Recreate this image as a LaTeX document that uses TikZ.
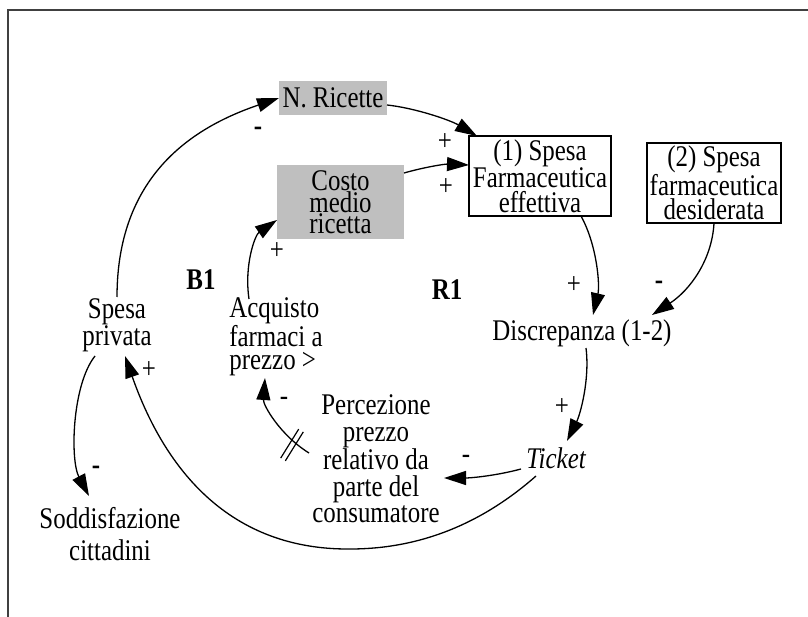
\documentclass[tikz,border=0pt]{standalone}
\usepackage{fontspec}
\setmainfont{Liberation Serif}[FakeStretch=0.83]
\usetikzlibrary{arrows.meta}
\newcommand{\fsz}[1]{\fontsize{30}{#1}\selectfont}
\begin{document}
\begin{tikzpicture}[x=1pt,y=-1pt,
  every node/.style={inner sep=0pt, outer sep=0pt, align=center, font=\fsz{26.5}},
  link/.style={line width=1.3pt, -{Triangle[length=22pt,width=14pt]}},
  sbox/.style={draw, line width=1.4pt},
  gbox/.style={fill=black!25},
  pol/.style={font=\fsz{26.5}},
  loopname/.style={font=\fsz{26.5}\bfseries}]
\useasboundingbox (0,0) rectangle (808,617);
\draw[line width=1.3pt, black!75] (808,10) -- (8,10) -- (8,617);

% variables
\node[gbox, minimum width=108pt, minimum height=34pt] (nric) at (333,98) {N. Ricette};
\node[gbox, minimum width=127pt, minimum height=74pt, font=\fsz{21}] (costo) at (340.5,202) {Costo\\medio\\ricetta};
\node[sbox, minimum width=142pt, minimum height=80pt, font=\fsz{24.5}] (p1) at (540,176) {(1) Spesa\\Farmaceutica\\effettiva};
\node[sbox, minimum width=134pt, minimum height=80pt, font=\fsz{24.5}] (p2) at (714,183) {(2) Spesa\\farmaceutica\\desiderata};
\node (disc) at (582,333) {Discrepanza (1-2)};
\node (ticket) at (556,458) {\itshape Ticket};
\node (perc) at (376,459) {Percezione\\prezzo\\relativo da\\parte del\\consumatore};
\node[align=left, font=\fsz{23.5}] (acq) at (276,337) {Acquisto\\farmaci a\\prezzo >};
\node[font=\fsz{27}] (spesa) at (117,325) {Spesa\\privata};
\node[font=\fsz{32}] (sodd) at (110,534) {Soddisfazione\\cittadini};

% connectors
\draw[link] ([yshift=28pt]spesa.center) .. controls (117,170) and (200,125) .. (nric.west);
\draw[link] ([yshift=-7pt]nric.east) .. controls (415,108) and (450,120) .. ([xshift=8pt]p1.north west);
\draw[link] ([yshift=29pt]costo.east) .. controls (425,167) and (445,164) .. ([yshift=11pt]p1.west);
\draw[link] ([xshift=41pt]p1.south) .. controls (597,245) and (600,285) .. ([xshift=11pt,yshift=18pt]disc.center);
\draw[link] (p2.south) .. controls (712,260) and (690,290) .. ([xshift=70pt,yshift=18pt]disc.center);
\draw[link] ([xshift=4pt,yshift=-15pt]disc.center) .. controls (590,380) and (580,415) .. ([xshift=11pt,yshift=17pt]ticket.center);
\draw[link] ([xshift=-35pt,yshift=-11pt]ticket.center) .. controls (495,476) and (470,478) .. ([xshift=68pt,yshift=-19pt]perc.center);
\draw[link] ([xshift=-67pt,yshift=6pt]perc.center) .. controls (280,435) and (263,405) .. ([xshift=-11pt,yshift=-41pt]acq.center);
\draw[link] ([xshift=-27pt,yshift=38pt]acq.center) .. controls (244,265) and (255,235) .. ([yshift=19pt]costo.south west);
\draw[link] ([xshift=-22pt,yshift=-31pt]spesa.center) .. controls (72,385) and (70,460) .. ([xshift=-21pt,yshift=38pt]sodd.center);
\coordinate (bot) at (350,549);
\draw[link] ([xshift=-20pt,yshift=-18pt]ticket.center) .. controls (486,520) and (425,549) .. (bot) .. controls (230,550) and (165,470) .. ([xshift=8pt,yshift=-31pt]spesa.center);

% delay mark
\draw[line width=1.2pt] (280.7,458.1) -- (298.7,429.1) (285.3,460.9) -- (303.3,431.9);

% polarities
\node[pol] (s1) at (258,131) {\textbf{-}};
\node[pol] (s2) at (445,142) {+};
\node[pol] (s3) at (446,187) {+};
\node[pol] (s4) at (277,251) {+};
\node[pol] (s5) at (574,285) {+};
\node[pol] (s6) at (659,285) {\textbf{-}};
\node[pol] (s7) at (562,407) {+};
\node[pol] (s8) at (466,459) {-};
\node[pol] (s9) at (284,401) {-};
\node[pol] (s10) at (149,370) {+};
\node[pol] (s11) at (96,470) {\textbf{-}};

% loop names
\node[loopname] (b1) at (201,280) {B1};
\node[loopname] (r1) at (447,290) {R1};
\end{tikzpicture}
\end{document}
